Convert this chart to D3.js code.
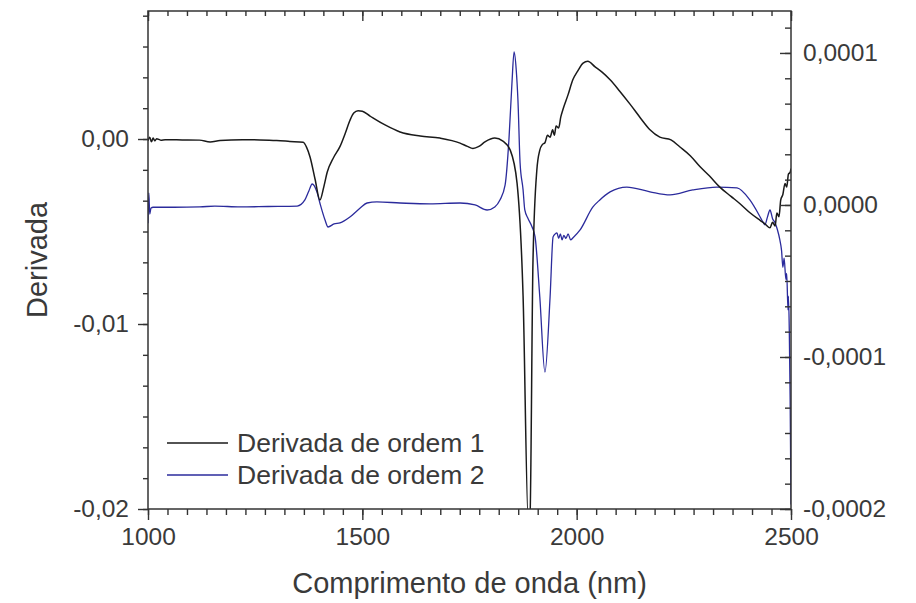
<!DOCTYPE html>
<html>
<head>
<meta charset="utf-8">
<script src="https://cdn.jsdelivr.net/npm/d3@7"></script>
<style>
  html, body { margin: 0; padding: 0; background: #fff; }
  svg { display: block; }
  text { font-family: "Liberation Sans", Arial, sans-serif; fill: #3a3a3a; }
</style>
</head>
<body>
<svg id="chart" width="916" height="603"></svg>
<script>
// First-order derivative (left axis)
const wave1 = [1000,1004,1008,1012,1016,1020,1030,1040,1080,1120,1145,1168,1220,1261,1300,1331,1362,1370,1378,1390,1401,1410,1418,1433,1448,1460,1471,1480,1490,1500,1518,1553,1588,1635,1681,1728,1745,1758,1772,1786,1809,1828,1845,1861,1875,1887,1891,1898,1907,1914,1920,1926,1932,1938,1944,1948,1952,1958,1963,1968,1980,1991,2003,2015,2026,2043,2060,2078,2100,2124,2150,2171,2194,2220,2241,2265,2288,2310,2334,2360,2381,2405,2428,2440,2451,2457,2463,2467,2472,2476,2481,2486,2490,2494,2498,2500];
const deriv1 = [-0.0001,0.0001,-0.00015,0.00005,-0.0001,0.00002,-0.00006,-0.00004,-0.00005,-0.00006,-0.00016,-0.00008,-0.00004,-0.00005,-0.00008,-0.00013,-0.00018,-0.00045,-0.00097,-0.0022,-0.0033,-0.0026,-0.0018,-0.0010,-0.0004,0.0003,0.0010,0.0014,0.00153,0.0015,0.00124,0.00076,0.00038,0.00016,0.00005,-0.00022,-0.0004,-0.00051,-0.0004,-0.00016,0.00005,-0.00011,-0.0006,-0.0024,-0.0085,-0.0206,-0.0205,-0.0067,-0.0017,-0.0006,-0.0003,-0.0002,0.0002,0.0001,0.0005,0.0002,0.0007,0.0006,0.0012,0.0016,0.0024,0.0032,0.0037,0.0041,0.0042,0.0039,0.0036,0.0032,0.0026,0.0019,0.0011,0.0005,0.0001,-0.00005,-0.00043,-0.0009,-0.0015,-0.0020,-0.0026,-0.0031,-0.0035,-0.0040,-0.0044,-0.0046,-0.0048,-0.0045,-0.0047,-0.0040,-0.0042,-0.0033,-0.0030,-0.0024,-0.0026,-0.0019,-0.0018,-0.0016];

// Second-order derivative (right axis)
const wave2 = [1000,1002,1004,1007,1012,1060,1121,1156,1215,1280,1348,1366,1375,1383,1394,1401,1413,1420,1434,1448,1471,1495,1511,1534,1588,1658,1728,1763,1791,1809,1821,1833,1842,1849,1854,1859,1863,1868,1875,1879,1886,1896,1903,1914,1926,1938,1945,1950,1954,1958,1962,1966,1970,1975,1980,1986,1991,2008,2038,2054,2078,2117,2171,2218,2271,2327,2374,2404,2428,2434,2439,2445,2451,2457,2463,2468,2474,2478,2481,2484,2488,2490,2493,2494,2496,2498,2500];
const deriv2 = [-0.000012,0.000008,-0.000006,-0.000002,-0.0000015,-0.0000015,-0.0000013,-0.0000007,-0.0000013,-0.000001,-0.0000007,0.0000033,0.000009,0.0000138,0.0000086,0.0000013,-0.0000099,-0.0000145,-0.0000125,-0.0000118,-0.0000079,-0.000002,0.0000013,0.000002,0.0000013,0.0000007,0.0000013,0,-0.0000033,-0.0000013,0.0000033,0.000013,0.000043,0.00008,0.0001007,0.000089,0.000069,0.0000276,0.0000099,-0.0000033,-0.0000086,-0.0000145,-0.000021,-0.0000605,-0.00011,-0.0000605,-0.000021,-0.000019,-0.0000184,-0.000022,-0.000019,-0.000023,-0.00002,-0.000022,-0.000019,-0.000023,-0.0000217,-0.0000164,-0.0000013,0.0000033,0.0000086,0.0000118,0.0000086,0.0000066,0.0000099,0.0000118,0.0000112,0.0000033,-0.0000079,-0.000011,-0.000013,-0.000008,-0.0000033,-0.000009,-0.0000118,-0.000016,-0.000023,-0.00003,-0.000041,-0.000035,-0.000049,-0.000045,-0.000069,-0.00006,-0.000082,-0.000128,-0.000197];

// Tick labels
const xTicks = [1000, 1500, 2000, 2500];
const leftTicks = [-0.02, -0.01, 0];
const rightTicks = [-0.0002, -0.0001, 0, 0.0001];

const seriesNames = ["Derivada de ordem 1", "Derivada de ordem 2"];
const seriesColors = ["#1a1a1a", "#2b2b9c"];

const plot = { left: 148, right: 791, top: 11, bottom: 509 };

const x = d3.scaleLinear([1000, 2500], [plot.left, plot.right]);
const yL = d3.scaleLinear([-0.02, 0.00692], [plot.bottom, plot.top]);
const yR = d3.scaleLinear([-0.0002, 0.0001276], [plot.bottom, plot.top]);

const locale = d3.formatLocale({ decimal: ",", thousands: ".", grouping: [3], currency: ["", ""], minus: "-" });
const fmtL = locale.format(".2f");
const fmtR = locale.format(".4f");

const svg = d3.select("#chart");

// minor tick positions
const xMinor = d3.range(0, 34).map(k => 1000 + k * 500 / 11).filter(v => v <= 2500.01);
const lMinor = d3.range(0, 17).map(k => -0.02 + k * 0.01 / 6).filter(v => v <= 0.00692);
const rMinor = d3.range(0, 20).map(k => -0.0002 + k * 0.0001 / 6).filter(v => v <= 0.0001276);

function styleAxis(g) {
  g.select(".domain").remove();
  g.selectAll("line").attr("stroke", "#333").attr("stroke-width", 1.4);
  g.selectAll("text").attr("fill", "#3a3a3a").style("font-size", "24.5px")
    .style("font-family", '"Liberation Sans", Arial, sans-serif');
}

// clip for data
svg.append("clipPath").attr("id", "clip")
  .append("rect").attr("x", plot.left).attr("y", plot.top)
  .attr("width", plot.right - plot.left).attr("height", plot.bottom - plot.top);

// data lines
const line1 = d3.line().curve(d3.curveMonotoneX).x((d, i) => x(wave1[i])).y(d => yL(d));
const line2 = d3.line().curve(d3.curveMonotoneX).x((d, i) => x(wave2[i])).y(d => yR(d));

svg.append("path").attr("clip-path", "url(#clip)")
  .attr("d", line2(deriv2)).attr("fill", "none")
  .attr("stroke", seriesColors[1]).attr("stroke-width", 1.3).attr("stroke-linejoin", "round");
svg.append("path").attr("clip-path", "url(#clip)")
  .attr("d", line1(deriv1)).attr("fill", "none")
  .attr("stroke", seriesColors[0]).attr("stroke-width", 1.5).attr("stroke-linejoin", "round");

// bottom axis
svg.append("g").attr("transform", `translate(0,${plot.bottom})`)
  .call(d3.axisBottom(x).tickValues(xMinor).tickSize(6).tickFormat(""))
  .call(styleAxis);
svg.append("g").attr("transform", `translate(0,${plot.bottom})`)
  .call(d3.axisBottom(x).tickValues(xTicks).tickSize(11).tickPadding(8).tickFormat(d3.format("d")))
  .call(styleAxis);

// top axis (ticks inward)
svg.append("g").attr("transform", `translate(0,${plot.top})`)
  .call(d3.axisTop(x).tickValues(xMinor).tickSize(-5).tickFormat(""))
  .call(styleAxis);
svg.append("g").attr("transform", `translate(0,${plot.top})`)
  .call(d3.axisTop(x).tickValues(xTicks).tickSize(-10).tickFormat(""))
  .call(styleAxis);

// left axis
svg.append("g").attr("transform", `translate(${plot.left},0)`)
  .call(d3.axisLeft(yL).tickValues(lMinor).tickSize(5).tickFormat(""))
  .call(styleAxis);
svg.append("g").attr("transform", `translate(${plot.left},0)`)
  .call(d3.axisLeft(yL).tickValues(leftTicks).tickSize(10).tickPadding(9).tickFormat(fmtL))
  .call(styleAxis);

// right axis (ticks inward, labels outside)
svg.append("g").attr("transform", `translate(${plot.right},0)`)
  .call(d3.axisRight(yR).tickValues(rMinor).tickSize(-6).tickFormat(""))
  .call(styleAxis);
svg.append("g").attr("transform", `translate(${plot.right},0)`)
  .call(d3.axisRight(yR).tickValues(rightTicks).tickSizeInner(-11).tickSizeOuter(0).tickPadding(12).tickFormat(fmtR))
  .call(styleAxis);

// frame
svg.append("rect").attr("x", plot.left).attr("y", plot.top)
  .attr("width", plot.right - plot.left).attr("height", plot.bottom - plot.top)
  .attr("fill", "none").attr("stroke", "#333").attr("stroke-width", 1.5);

// axis titles
svg.append("text").attr("x", (plot.left + plot.right) / 2).attr("y", 593)
  .attr("text-anchor", "middle").style("font-size", "29px")
  .text("Comprimento de onda (nm)");
svg.append("text").attr("transform", `translate(47,${(plot.top + plot.bottom) / 2}) rotate(-90)`)
  .attr("text-anchor", "middle").style("font-size", "29px")
  .text("Derivada");

// legend
const legend = svg.append("g");
seriesNames.forEach((name, i) => {
  const ly = 443 + i * 32;
  legend.append("line").attr("x1", 167).attr("x2", 228).attr("y1", ly).attr("y2", ly)
    .attr("stroke", seriesColors[i]).attr("stroke-width", 1.3);
  legend.append("text").attr("x", 237).attr("y", ly + 9).style("font-size", "26.5px").text(name);
});
</script>
</body>
</html>
